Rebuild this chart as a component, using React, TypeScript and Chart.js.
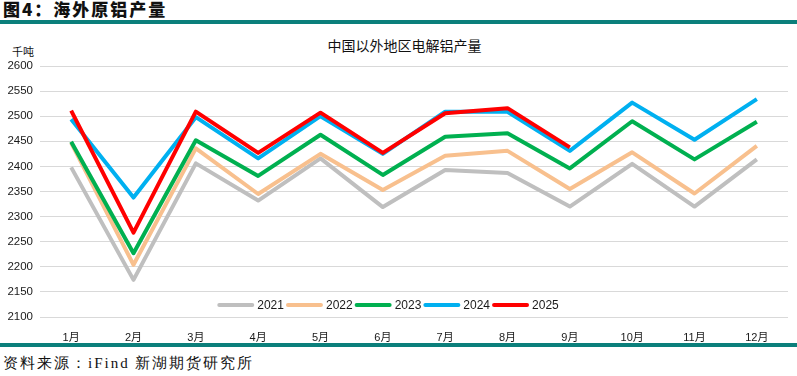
import React, { useEffect, useRef } from "react";
import { Chart, registerables } from "chart.js";

Chart.register(...registerables);

const months = ["1月", "2月", "3月", "4月", "5月", "6月", "7月", "8月", "9月", "10月", "11月", "12月"];
const y2021 = [2398, 2174, 2406, 2332, 2416, 2319, 2393, 2387, 2320, 2405, 2320, 2414];
const y2022 = [2447, 2204, 2436, 2345, 2425, 2353, 2421, 2431, 2355, 2428, 2346, 2441];
const y2023 = [2449, 2227, 2452, 2381, 2463, 2383, 2459, 2466, 2396, 2490, 2414, 2489];
const y2024 = [2494, 2338, 2498, 2416, 2500, 2425, 2509, 2509, 2431, 2527, 2453, 2534];
const y2025 = [2511, 2268, 2509, 2427, 2507, 2427, 2506, 2516, 2438];
const seriesNames = ["2021", "2022", "2023", "2024", "2025"];
const seriesColors = ["#BFBFBF", "#F8C08E", "#00B050", "#00B0F0", "#FF0000"];
const yTicks = { min: 2100, max: 2600, step: 50 };

const FONT = "'Liberation Sans', 'Noto Sans CJK SC', sans-serif";

const legendPlugin = {
  id: "insideLegend",
  afterDraw(chart: any) {
    const { ctx, chartArea } = chart;
    ctx.save();
    ctx.font = `12px ${FONT}`;
    const lineLen = 37;
    const gapAfterLine = 3;
    const gapAfterText = 2;
    let total = 0;
    const widths = seriesNames.map((n) => ctx.measureText(n).width);
    widths.forEach((w) => (total += lineLen + gapAfterLine + w + gapAfterText));
    let x = (chartArea.left + chartArea.right) / 2 - total / 2 - 25;
    const y = chartArea.bottom - 12;
    seriesNames.forEach((n, i) => {
      ctx.strokeStyle = seriesColors[i];
      ctx.lineWidth = 4;
      ctx.lineCap = "round";
      ctx.beginPath();
      ctx.moveTo(x + 2, y);
      ctx.lineTo(x + lineLen - 2, y);
      ctx.stroke();
      x += lineLen + gapAfterLine;
      ctx.fillStyle = "#1a1a1a";
      ctx.textBaseline = "middle";
      ctx.textAlign = "left";
      ctx.fillText(n, x, y + 1);
      x += widths[i] + gapAfterText;
    });
    ctx.restore();
  },
};

function LineChart() {
  const ref = useRef<HTMLCanvasElement>(null);
  useEffect(() => {
    if (!ref.current) return;
    const data = [y2021, y2022, y2023, y2024, y2025];
    const chart = new Chart(ref.current, {
      type: "line",
      data: {
        labels: months,
        datasets: data.map((d, i) => ({
          label: seriesNames[i],
          data: d,
          borderColor: seriesColors[i],
          backgroundColor: seriesColors[i],
          borderWidth: 4,
          pointRadius: 0,
          tension: 0,
          fill: false,
          borderJoinStyle: "round" as const,
          order: 4 - i,
        })),
      },
      options: {
        animation: false,
        responsive: false,
        devicePixelRatio: 1,
        layout: { padding: { top: 66, right: 9, left: 0, bottom: 34 } },
        plugins: { legend: { display: false }, title: { display: false }, tooltip: { enabled: false } },
        scales: {
          x: {
            offset: true,
            grid: { display: false },
            border: { display: false },
            ticks: { color: "#1a1a1a", font: { size: 11, family: FONT }, padding: 6, maxRotation: 0 },
            afterFit: (s: any) => {
              s.height = 25;
            },
          },
          y: {
            min: yTicks.min,
            max: yTicks.max,
            grid: { color: "#D9D9D9", lineWidth: 1, drawTicks: false },
            border: { display: false },
            ticks: {
              stepSize: yTicks.step,
              color: "#1a1a1a",
              font: { size: 11.5, family: FONT },
              padding: 7,
              callback: (v: any) => String(v),
            },
            afterFit: (s: any) => {
              s.width = 40;
            },
          },
        },
      },
      plugins: [legendPlugin],
    });
    return () => chart.destroy();
  }, []);
  return <canvas ref={ref} width={797} height={376} style={{ position: "absolute", left: 0, top: 0 }} />;
}

export default function App() {
  useEffect(() => {
    document.body.style.margin = "0";
  }, []);
  return (
    <div style={{ position: "fixed", left: 0, top: 0, width: 797, height: 376, background: "#fff", overflow: "hidden" }}>
      <div
        style={{
          position: "absolute",
          left: 3,
          top: -2,
          fontFamily: "'Noto Sans CJK SC', serif",
          fontWeight: 900,
          fontSize: 17,
          lineHeight: "22px",
          color: "#111",
          letterSpacing: 2,
        }}
      >
        图4：海外原铝产量
      </div>
      <div style={{ position: "absolute", left: 0, top: 20, width: 797, height: 4, background: "#0B7F7B" }} />
      <div style={{ position: "absolute", left: 0, top: 343, width: 797, height: 4, background: "#0B7F7B" }} />
      <div
        style={{
          position: "absolute",
          left: 3,
          top: 352,
          fontFamily: "serif",
          fontSize: 15,
          lineHeight: "22px",
          color: "#111",
          letterSpacing: 2,
        }}
      >
        资料来源：iFind 新湖期货研究所
      </div>
      <div
        style={{
          position: "absolute",
          left: 0,
          width: 797,
          top: 35,
          textAlign: "center",
          fontFamily: "'Noto Sans CJK SC', sans-serif",
          fontSize: 14,
          lineHeight: "20px",
          color: "#111",
          paddingLeft: 12,
          boxSizing: "border-box",
        }}
      >
        中国以外地区电解铝产量
      </div>
      <div
        style={{
          position: "absolute",
          left: 12,
          top: 43,
          fontFamily: "'Noto Sans CJK SC', sans-serif",
          fontSize: 11,
          lineHeight: "16px",
          color: "#111",
        }}
      >
        千吨
      </div>
      <LineChart />
    </div>
  );
}
